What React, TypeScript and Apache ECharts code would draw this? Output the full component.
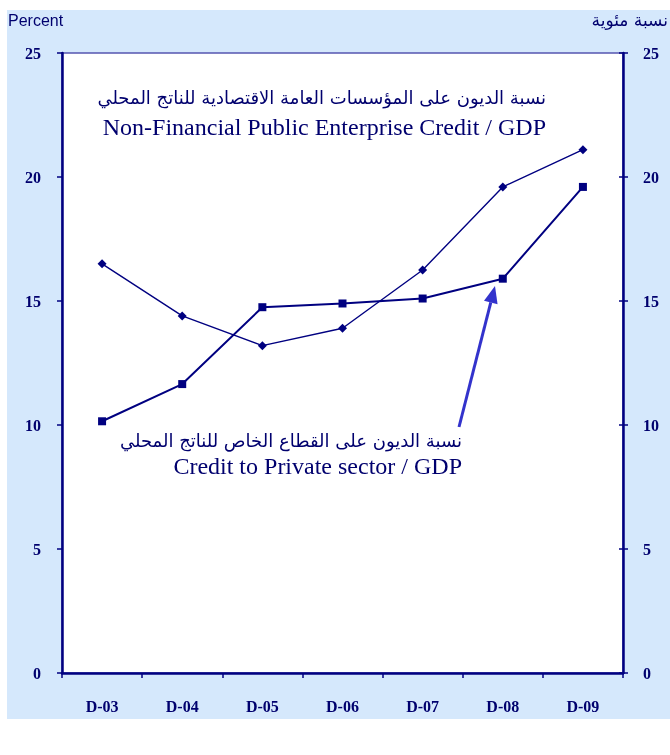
import React, { useEffect, useRef } from "react";
import * as echarts from "echarts";

const categories = ["D-03", "D-04", "D-05", "D-06", "D-07", "D-08", "D-09"];
const publicEnterpriseCredit = [16.5, 14.4, 13.2, 13.9, 16.25, 19.6, 21.1];
const privateSectorCredit = [10.15, 11.65, 14.75, 14.9, 15.1, 15.9, 19.6];
const yTicks = { min: 0, max: 25, interval: 5 };

const NAVY = "#000080";
const TEXT = "#00006e";
const BG = "#d5e8fc";

export default function App() {
  const ref = useRef<HTMLDivElement>(null);
  useEffect(() => {
    if (!ref.current) return;
    const chart = echarts.init(ref.current, undefined, { renderer: "svg" });
    const labelStyle = {
      color: TEXT,
      fontFamily: "Liberation Serif, Times New Roman, serif",
      fontWeight: "bold" as const,
      fontSize: 16,
    };
    // arrow geometry
    const tail = [459, 427];
    const tip = [495, 286];
    const dx = tip[0] - tail[0];
    const dy = tip[1] - tail[1];
    const len = Math.sqrt(dx * dx + dy * dy);
    const ux = dx / len, uy = dy / len;
    const hl = 17, hw = 7;
    const bc = [tip[0] - ux * hl, tip[1] - uy * hl];
    const px = -uy, py = ux;
    chart.setOption({
      animation: false,
      grid: {
        left: 62,
        right: 47,
        top: 53,
        bottom: 82,
        show: true,
        backgroundColor: "#ffffff",
        borderColor: "#5555b0",
        borderWidth: 1.5,
      },
      xAxis: {
        type: "category",
        data: categories,
        boundaryGap: true,
        axisLine: { lineStyle: { color: NAVY, width: 2.5 } },
        axisTick: { show: true, inside: false, length: 5, lineStyle: { color: NAVY, width: 1.5 } },
        axisLabel: { ...labelStyle, margin: 25 },
        splitLine: { show: false },
      },
      yAxis: [
        {
          type: "value",
          position: "left",
          ...yTicks,
          axisLine: { show: true, lineStyle: { color: NAVY, width: 2.5 } },
          axisTick: { show: true, inside: false, length: 5, lineStyle: { color: NAVY, width: 1.5 } },
          axisLabel: { ...labelStyle, margin: 21 },
          splitLine: { show: false },
        },
        {
          type: "value",
          position: "right",
          ...yTicks,
          axisLine: { show: true, lineStyle: { color: NAVY, width: 2.5 } },
          axisTick: { show: true, inside: false, length: 5, lineStyle: { color: NAVY, width: 1.5 } },
          axisLabel: { ...labelStyle, margin: 20 },
          splitLine: { show: false },
        },
        {
          type: "value",
          position: "right",
          ...yTicks,
          axisLine: { show: false },
          axisTick: { show: true, inside: true, length: 4, lineStyle: { color: NAVY, width: 1.5 } },
          axisLabel: { show: false },
          splitLine: { show: false },
        },
      ],
      series: [
        {
          name: "Non-Financial Public Enterprise Credit / GDP",
          type: "line",
          data: publicEnterpriseCredit,
          symbol: "diamond",
          symbolSize: 9,
          itemStyle: { color: NAVY },
          lineStyle: { color: NAVY, width: 1.4 },
          z: 3,
        },
        {
          name: "Credit to Private sector / GDP",
          type: "line",
          data: privateSectorCredit,
          symbol: "rect",
          symbolSize: 8,
          itemStyle: { color: NAVY },
          lineStyle: { color: NAVY, width: 2 },
          z: 3,
        },
      ],
      graphic: [
        {
          type: "rect",
          z: -100,
          shape: { x: 7, y: 10, width: 663, height: 709 },
          style: { fill: BG },
          silent: true,
        },
        {
          type: "text",
          x: 8,
          y: 20,
          style: {
            text: "Percent",
            fill: TEXT,
            font: "16px Liberation Sans, Arial, sans-serif",
            textAlign: "left",
            textVerticalAlign: "middle",
          },
        },
        {
          type: "text",
          x: 668,
          y: 20,
          style: {
            text: "نسبة مئوية",
            fill: TEXT,
            font: "17px DejaVu Sans, sans-serif",
            textAlign: "right",
            textVerticalAlign: "middle",
          },
        },
        {
          type: "text",
          x: 546,
          y: 97,
          z: 10,
          style: {
            text: "نسبة الديون على المؤسسات العامة الاقتصادية للناتج المحلي",
            fill: TEXT,
            font: "18px DejaVu Sans, sans-serif",
            textAlign: "right",
            textVerticalAlign: "middle",
          },
        },
        {
          type: "text",
          x: 546,
          y: 127,
          z: 10,
          style: {
            text: "Non-Financial Public Enterprise Credit / GDP",
            fill: TEXT,
            font: "24px Liberation Serif, Times New Roman, serif",
            textAlign: "right",
            textVerticalAlign: "middle",
          },
        },
        {
          type: "text",
          x: 462,
          y: 440,
          z: 10,
          style: {
            text: "نسبة الديون على القطاع الخاص للناتج المحلي",
            fill: TEXT,
            font: "18px DejaVu Sans, sans-serif",
            textAlign: "right",
            textVerticalAlign: "middle",
          },
        },
        {
          type: "text",
          x: 462,
          y: 466,
          z: 10,
          style: {
            text: "Credit to Private sector / GDP",
            fill: TEXT,
            font: "24px Liberation Serif, Times New Roman, serif",
            textAlign: "right",
            textVerticalAlign: "middle",
          },
        },
        {
          type: "line",
          z: 10,
          shape: { x1: tail[0], y1: tail[1], x2: bc[0], y2: bc[1] },
          style: { stroke: "#3333cc", lineWidth: 3 },
        },
        {
          type: "polygon",
          z: 10,
          shape: {
            points: [
              [tip[0], tip[1]],
              [bc[0] + px * hw, bc[1] + py * hw],
              [bc[0] - px * hw, bc[1] - py * hw],
            ],
          },
          style: { fill: "#3333cc" },
        },
      ],
    });
    return () => chart.dispose();
  }, []);
  return (
    <div
      ref={ref}
      style={{ position: "fixed", left: 0, top: 0, width: 670, height: 755 }}
    />
  );
}
